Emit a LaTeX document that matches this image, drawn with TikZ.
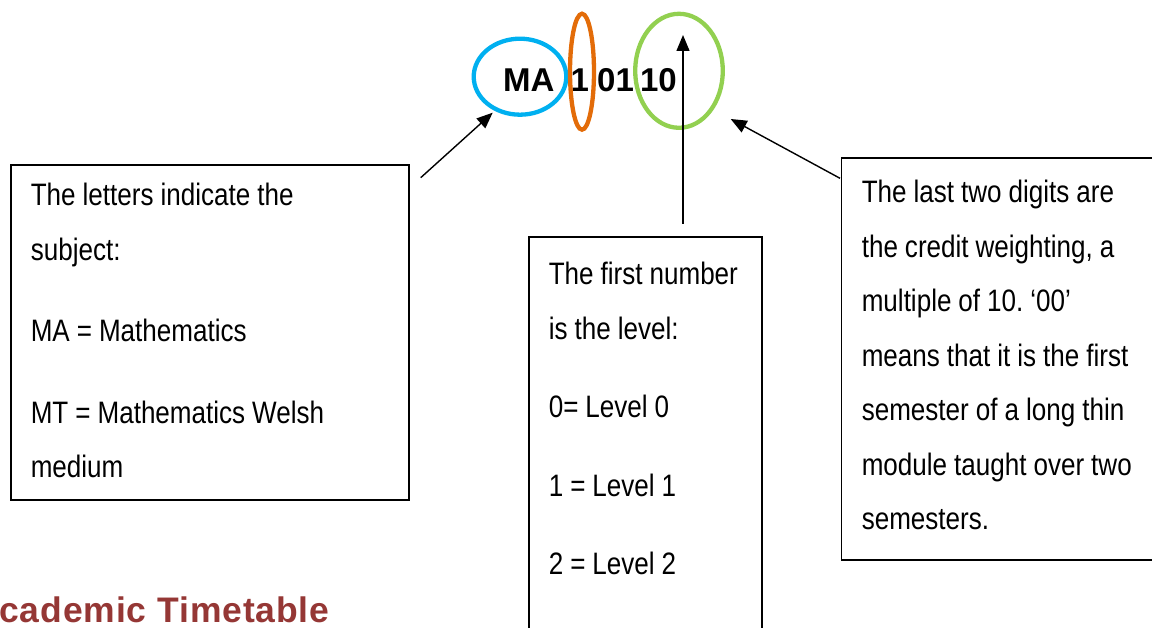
\documentclass[tikz,border=0pt]{standalone}
\usepackage{fontspec}
\setmainfont{Liberation Sans}
\newfontfamily\narrowfont{Liberation Sans}[FakeStretch=0.84]
\usetikzlibrary{arrows.meta,shapes.geometric}
\definecolor{ringblue}{RGB}{0,176,240}
\definecolor{ringorange}{RGB}{227,108,9}
\definecolor{ringgreen}{RGB}{146,208,80}
\definecolor{titlered}{RGB}{149,55,53}
\hyphenpenalty=10000
\frenchspacing

\begin{document}
\begin{tikzpicture}[x=1pt,y=-1pt,->,>={Triangle[length=16pt,width=13pt]},line width=1.4pt,
    ring/.style={ellipse,draw,-,line width=4.3pt,inner sep=0pt},
    info box/.style={draw,-,line width=1.6pt,anchor=north west,align=left,inner ysep=0pt,inner xsep=20pt,
        font=\narrowfont\fontsize{31}{54.5}\selectfont,execute at begin node={\spaceskip=7pt\relax}}]
    \clip (0,0) rectangle (1152,628);

    \node[anchor=base west,inner sep=0pt,font=\bfseries\fontsize{33}{40}\selectfont] (code) at (502.5,92) {MA\kern7pt\ 1\kern-1pt\ 01\kern-3pt\ 10};
    \node[ring,draw=ringblue,minimum width=92.6pt,minimum height=76pt] (letters) at (520,76.7) {};
    \node[ring,draw=ringorange,minimum width=24pt,minimum height=116pt] (level) at (582,71.7) {};
    \node[ring,draw=ringgreen,minimum width=87.6pt,minimum height=114pt] (credits) at (679,70.8) {};

    \node[info box,text width=358pt,text height=40.5pt,text depth=294pt] (subject) at (10,164.5)
        {The letters indicate the\\ subject:\\[27pt] MA = Mathematics\\[27pt] MT = Mathematics Welsh\\ medium};
    \node[info box,text width=193pt,text height=48pt,text depth=420pt] (firstnum) at (528,236)
        {The first number\\ is the level:\\[24pt] 0= Level 0\\[24pt] 1 = Level 1\\[24pt] 2 = Level 2};
    \node[info box,inner xsep=20.5pt,text width=300pt,text height=44.7pt,text depth=357pt] (lastdigits) at (840.5,157.3)
        {The last two digits are\\ the credit weighting, a\\ multiple of 10. ‘00’\\ means that it is the first\\
         semester of a long thin\\ module taught over two\\ semesters.};

    \node[anchor=base west,inner sep=0pt,text=titlered,font=\bfseries\fontsize{35.5}{40}\selectfont\addfontfeature{LetterSpace=2.5}]
        (title) at (-1.5,622.5) {cademic Timetable};

    % arrow ends
    \coordinate (subject tail) at (420.7,177.7);
    \coordinate (letters tip) at (492.7,112.7);
    \coordinate (firstnum tail) at (683,224);
    \coordinate (level tip) at (683,35);
    \coordinate (lastdigits tail) at (840,178.3);
    \coordinate (credits tip) at (730.7,119);

    \draw (subject tail) -- (letters tip);
    \draw (firstnum tail) -- (level tip);
    \draw (lastdigits tail) -- (credits tip);
\end{tikzpicture}
\end{document}
